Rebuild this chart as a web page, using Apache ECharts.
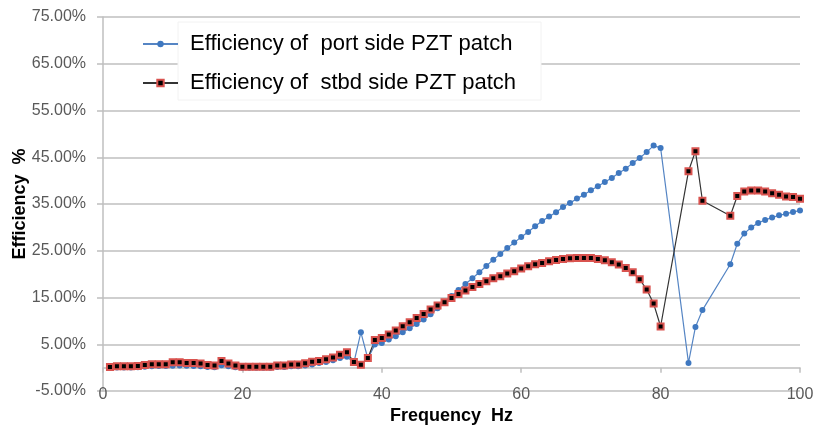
<!DOCTYPE html>
<html>
<head>
<meta charset="utf-8">
<script src="https://cdn.jsdelivr.net/npm/echarts@6/dist/echarts.min.js"></script>
<style>
  html, body { margin: 0; padding: 0; background: #fff; }
  #chart { width: 815px; height: 434px; }
</style>
</head>
<body>
<div id="chart"></div>
<script>
// frequency (Hz) — there are gaps at 81-83 and 87-89
const freq = [
  1, 2, 3, 4, 5, 6, 7, 8, 9, 10, 11, 12, 13, 14, 15, 16, 17, 18, 19, 20,
  21, 22, 23, 24, 25, 26, 27, 28, 29, 30, 31, 32, 33, 34, 35, 36, 37, 38, 39, 40,
  41, 42, 43, 44, 45, 46, 47, 48, 49, 50, 51, 52, 53, 54, 55, 56, 57, 58, 59, 60,
  61, 62, 63, 64, 65, 66, 67, 68, 69, 70, 71, 72, 73, 74, 75, 76, 77, 78, 79, 80,
  84, 85, 86, 90, 91, 92, 93, 94, 95, 96, 97, 98, 99, 100
]

// efficiency in %
const portSide = [
  0.0, 0.05, 0.05, 0.05, 0.1, 0.2, 0.3, 0.35, 0.35, 0.4, 0.45, 0.4, 0.35, 0.3, 0.15, 0.1, 0.5, 0.3, 0.1, 0.0,
  0.0, 0.0, 0.0, 0.0, 0.15, 0.15, 0.3, 0.3, 0.43, 0.65, 1.0, 1.22, 1.57, 2.07, 2.3, 1.1, 7.56, 1.9, 4.92, 5.29,
  6.0, 6.7, 7.57, 8.42, 9.35, 10.28, 11.42, 12.7, 13.91, 15.34, 16.62, 17.9, 19.12, 20.4, 21.75, 23.1, 24.32, 25.6, 26.74, 27.95,
  29.02, 30.23, 31.37, 32.3, 33.23, 34.37, 35.22, 36.15, 37.0, 37.93, 38.78, 39.71, 40.57, 41.64, 42.56, 43.77, 44.84, 46.1, 47.5, 47.0,
  1.0, 8.7, 12.3, 22.1, 26.5, 28.7, 30.0, 30.95, 31.6, 32.1, 32.6, 32.9, 33.3, 33.6
]

const stbdSide = [
  0.14, 0.29, 0.29, 0.29, 0.36, 0.57, 0.71, 0.71, 0.71, 1.14, 1.14, 1.0, 1.0, 0.86, 0.57, 0.43, 1.43, 0.86, 0.43, 0.18,
  0.18, 0.18, 0.18, 0.18, 0.43, 0.43, 0.68, 0.68, 0.93, 1.25, 1.43, 1.78, 2.14, 2.75, 3.28, 1.2, 0.6, 2.07, 5.9, 6.35,
  7.07, 7.92, 8.85, 9.71, 10.63, 11.49, 12.41, 13.27, 13.98, 14.91, 15.76, 16.48, 17.26, 17.9, 18.47, 19.11, 19.54, 20.11, 20.61, 21.18,
  21.68, 22.11, 22.39, 22.75, 23.03, 23.25, 23.39, 23.46, 23.46, 23.46, 23.25, 22.96, 22.53, 22.04, 21.32, 20.4, 18.9, 16.7, 13.7, 8.8,
  42.0, 46.3, 35.7, 32.5, 36.7, 37.7, 37.9, 37.9, 37.7, 37.3, 37.0, 36.6, 36.5, 36.1
]

const SERIES_NAMES = ['Efficiency of  port side PZT patch', 'Efficiency of  stbd side PZT patch']

const FONT = "'Liberation Sans', Arial, sans-serif"
const GRID_COLOR = '#bfbfbf'
const LABEL_COLOR = '#595959'

function pairs(values) {
  return freq.map((f, i) => [f, values[i]])
}

const chart = echarts.init(document.getElementById('chart'))

const xCommon = {
  type: 'value',
  min: 0,
  max: 100,
  interval: 20,
  splitLine: { show: false }
}

chart.setOption({
  animation: false,
  textStyle: { fontFamily: FONT },
  grid: { left: 103, right: 15, top: 17, bottom: 43, outerBoundsMode: 'none' },
  graphic: [{
    type: 'rect',
    z: 1,
    shape: { x: 178, y: 22, width: 363, height: 78 },
    style: { fill: '#fff', stroke: '#f2f2f2', lineWidth: 1 }
  }],
  legend: {
    orient: 'vertical',
    left: 137,
    top: 22,
    itemWidth: 35,
    itemHeight: 8,
    itemGap: 17,
    padding: [11, 5, 5, 5],
    textStyle: { fontSize: 22, color: '#000', fontFamily: FONT, padding: [0, 0, 0, 7] },
    data: SERIES_NAMES
  },
  xAxis: [
    {
      // axis line and ticks sit on the 0% line
      ...xCommon,
      axisLine: { onZero: true, lineStyle: { color: GRID_COLOR, width: 1.5 } },
      axisTick: { show: true, length: 5, lineStyle: { color: GRID_COLOR, width: 1.5 } },
      axisLabel: { show: false }
    },
    {
      // labels sit low, on the -5% line
      ...xCommon,
      position: 'bottom',
      axisLine: { show: false, onZero: false },
      axisTick: { show: false },
      axisLabel: { color: LABEL_COLOR, fontSize: 16, margin: 4, verticalAlign: 'middle' },
      name: 'Frequency  Hz',
      nameLocation: 'middle',
      nameGap: 16,
      nameMoveOverlap: false,
      nameTextStyle: { color: '#000', fontSize: 18, fontWeight: 'bold' }
    }
  ],
  yAxis: {
    type: 'value',
    min: -5,
    max: 75,
    interval: 10,
    name: 'Efficiency  %',
    nameLocation: 'middle',
    nameGap: 74,
    nameRotate: 90,
    nameMoveOverlap: false,
    nameTextStyle: { color: '#000', fontSize: 18, fontWeight: 'bold' },
    axisLine: { show: true, lineStyle: { color: GRID_COLOR, width: 1.5 } },
    axisTick: { show: true, length: 6, lineStyle: { color: GRID_COLOR, width: 1.5 } },
    axisLabel: {
      color: LABEL_COLOR,
      fontSize: 16,
      margin: 17,
      formatter: v => v.toFixed(2) + '%'
    },
    splitLine: { lineStyle: { color: GRID_COLOR, width: 1.5 } }
  },
  series: [
    {
      name: SERIES_NAMES[0],
      type: 'line',
      xAxisIndex: 0,
      data: pairs(portSide),
      symbol: 'circle',
      symbolSize: 6,
      itemStyle: { color: '#3f78c0' },
      lineStyle: { color: '#5585c4', width: 1.2 }
    },
    {
      name: SERIES_NAMES[1],
      type: 'line',
      xAxisIndex: 0,
      data: pairs(stbdSide),
      symbol: 'rect',
      symbolSize: 6,
      itemStyle: { color: '#000', borderColor: '#d9534f', borderWidth: 2 },
      lineStyle: { color: '#333', width: 1.2 }
    }
  ]
})
</script>
</body>
</html>
